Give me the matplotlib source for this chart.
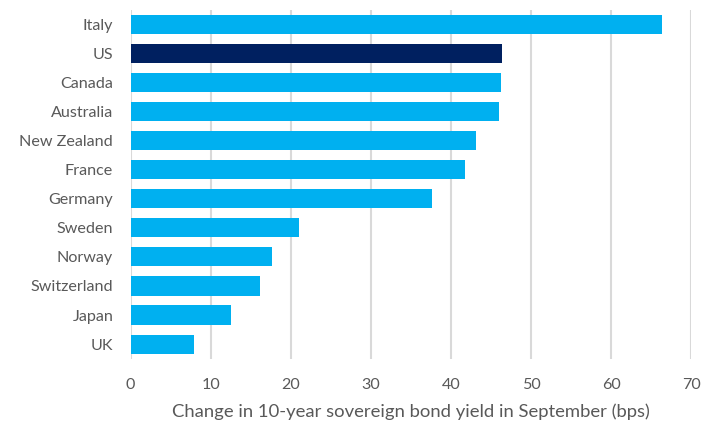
import matplotlib
matplotlib.use("Agg")
import matplotlib.pyplot as plt

countries = ["Italy", "US", "Canada", "Australia", "New Zealand", "France",
             "Germany", "Sweden", "Norway", "Switzerland", "Japan", "UK"]
values = [66.4, 46.4, 46.3, 46.0, 43.1, 41.8, 37.6, 21.0, 17.6, 16.2, 12.5, 7.9]
highlight = "US"
xticks = [0, 10, 20, 30, 40, 50, 60, 70]
xlabel = "Change in 10-year sovereign bond yield in September (bps)"

light = "#00B0F0"
dark = "#002060"
txt = "#595959"

plt.rcParams['font.family'] = ['Lato', 'DejaVu Sans']

fig = plt.figure(figsize=(7.06, 4.21), dpi=100)
ax = fig.add_axes([0.185, 0.148, 0.794, 0.829])

colors = [dark if c == highlight else light for c in countries]
ax.barh(range(len(countries)), values, height=0.66, color=colors, zorder=3)
ax.set_ylim(len(countries) - 0.5, -0.5)
ax.set_xlim(0, 70)
ax.set_xticks(xticks)
ax.set_yticks(range(len(countries)))
ax.set_yticklabels(countries)
ax.xaxis.grid(True, color="#d9d9d9", linewidth=1.5, zorder=0)
for s in ax.spines.values():
    s.set_visible(False)
ax.tick_params(axis='both', length=0, colors=txt, labelsize=11.6)
ax.tick_params(axis='x', pad=14)
ax.tick_params(axis='y', pad=12.5)
ax.set_xlabel(xlabel, color=txt, fontsize=13.3, labelpad=8)

fig.savefig("out.png", dpi=100)
